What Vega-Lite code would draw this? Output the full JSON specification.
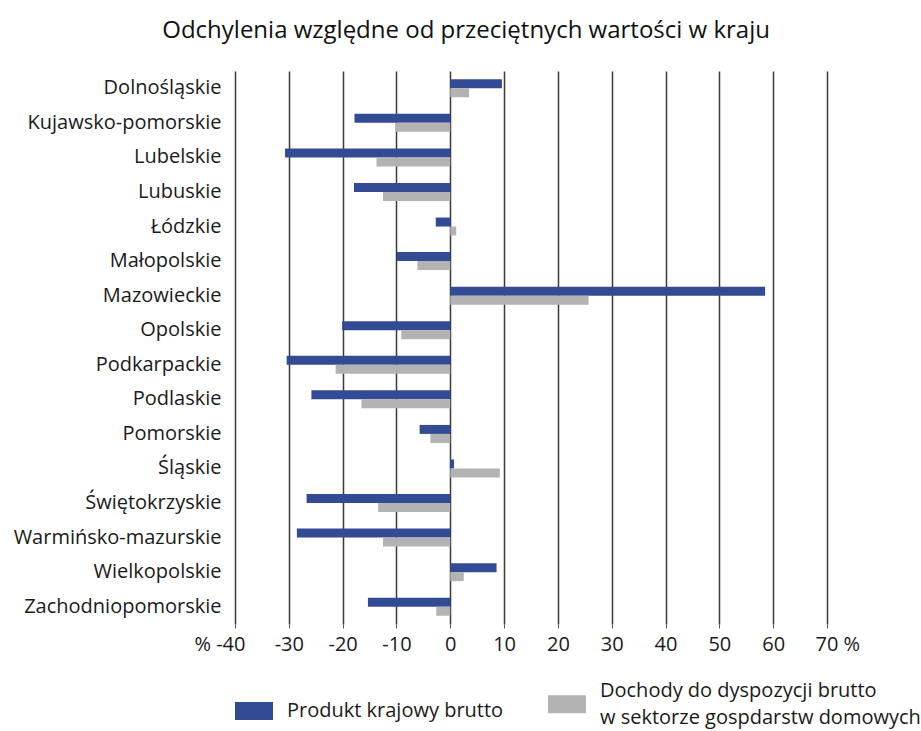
{
  "$schema": "https://vega.github.io/schema/vega-lite/v6.json",
  "width": 592,
  "height": 553,
  "autosize": {"type": "none"},
  "padding": {"left": 235, "top": 71, "right": 94, "bottom": 107},
  "background": "white",
  "title": {
    "text": "Odchylenia względne od przeciętnych wartości w kraju",
    "anchor": "middle",
    "frame": "bounds",
    "font": "Open Sans",
    "fontSize": 24,
    "fontWeight": "normal",
    "color": "#111111",
    "offset": 28,
    "dx": -1
  },
  "data": {
    "values": [
      {"region": "Dolnośląskie", "series": "Produkt krajowy brutto", "value": 9.6},
      {"region": "Dolnośląskie", "series": "Dochody", "value": 3.5},
      {"region": "Kujawsko-pomorskie", "series": "Produkt krajowy brutto", "value": -17.8},
      {"region": "Kujawsko-pomorskie", "series": "Dochody", "value": -10.2},
      {"region": "Lubelskie", "series": "Produkt krajowy brutto", "value": -30.7},
      {"region": "Lubelskie", "series": "Dochody", "value": -13.7},
      {"region": "Lubuskie", "series": "Produkt krajowy brutto", "value": -17.9},
      {"region": "Lubuskie", "series": "Dochody", "value": -12.5},
      {"region": "Łódzkie", "series": "Produkt krajowy brutto", "value": -2.7},
      {"region": "Łódzkie", "series": "Dochody", "value": 1.1},
      {"region": "Małopolskie", "series": "Produkt krajowy brutto", "value": -9.9},
      {"region": "Małopolskie", "series": "Dochody", "value": -6.1},
      {"region": "Mazowieckie", "series": "Produkt krajowy brutto", "value": 58.5},
      {"region": "Mazowieckie", "series": "Dochody", "value": 25.7},
      {"region": "Opolskie", "series": "Produkt krajowy brutto", "value": -20.1},
      {"region": "Opolskie", "series": "Dochody", "value": -9.1},
      {"region": "Podkarpackie", "series": "Produkt krajowy brutto", "value": -30.4},
      {"region": "Podkarpackie", "series": "Dochody", "value": -21.3},
      {"region": "Podlaskie", "series": "Produkt krajowy brutto", "value": -25.8},
      {"region": "Podlaskie", "series": "Dochody", "value": -16.5},
      {"region": "Pomorskie", "series": "Produkt krajowy brutto", "value": -5.7},
      {"region": "Pomorskie", "series": "Dochody", "value": -3.7},
      {"region": "Śląskie", "series": "Produkt krajowy brutto", "value": 0.7},
      {"region": "Śląskie", "series": "Dochody", "value": 9.2},
      {"region": "Świętokrzyskie", "series": "Produkt krajowy brutto", "value": -26.7},
      {"region": "Świętokrzyskie", "series": "Dochody", "value": -13.4},
      {"region": "Warmińsko-mazurskie", "series": "Produkt krajowy brutto", "value": -28.5},
      {"region": "Warmińsko-mazurskie", "series": "Dochody", "value": -12.5},
      {"region": "Wielkopolskie", "series": "Produkt krajowy brutto", "value": 8.6},
      {"region": "Wielkopolskie", "series": "Dochody", "value": 2.5},
      {"region": "Zachodniopomorskie", "series": "Produkt krajowy brutto", "value": -15.3},
      {"region": "Zachodniopomorskie", "series": "Dochody", "value": -2.6}
    ]
  },
  "mark": {"type": "bar"},
  "encoding": {
    "y": {
      "field": "region",
      "type": "nominal",
      "sort": null,
      "scale": {"paddingInner": 0.48, "paddingOuter": 0.24},
      "axis": {
        "title": null,
        "domain": false,
        "ticks": false,
        "labelPadding": 14,
        "labelFont": "Open Sans",
        "labelFontSize": 20,
        "labelColor": "#1a1a1a",
        "labelLimit": 300
      }
    },
    "yOffset": {
      "field": "series",
      "type": "nominal",
      "sort": ["Produkt krajowy brutto", "Dochody"],
      "scale": {"paddingInner": 0, "paddingOuter": 0}
    },
    "x": {
      "field": "value",
      "type": "quantitative",
      "scale": {"domain": [-40, 70], "nice": false, "zero": false},
      "axis": {
        "title": null,
        "domain": false,
        "values": [-40, -30, -20, -10, 0, 10, 20, 30, 40, 50, 60, 70],
        "grid": true,
        "gridColor": "#3a3a3a",
        "gridWidth": 1.5,
        "tickColor": "#555555",
        "tickSize": 4,
        "labelFont": "Open Sans",
        "labelFontSize": 20,
        "labelColor": "#1a1a1a",
        "labelPadding": 6,
        "labelExpr": "datum.value == -40 ? '% -40' : datum.value == 70 ? '70 %' : '' + datum.value",
        "labelAlign": {"condition": [{"test": "datum.value == -40", "value": "right"}, {"test": "datum.value == 70", "value": "left"}], "value": "center"},
        "labelOffset": {"condition": [{"test": "datum.value == -40", "value": 10}, {"test": "datum.value == 70", "value": -12}], "value": 0},
        "labelFlush": false
      }
    },
    "color": {
      "field": "series",
      "type": "nominal",
      "scale": {
        "domain": ["Produkt krajowy brutto", "Dochody"],
        "range": ["#334b94", "#b3b3b3"]
      },
      "legend": {
        "title": null,
        "orient": "bottom",
        "direction": "horizontal",
        "offset": 31,
        "symbolType": "M-1,-0.47H1V0.47H-1Z",
        "symbolSize": 1444,
        "symbolStrokeWidth": 0,
        "symbolOpacity": 1,
        "labelFont": "Open Sans",
        "labelFontSize": 20,
        "labelColor": "#1a1a1a",
        "labelOffset": 14,
        "labelLimit": 400,
        "columnPadding": 44,
        "labelExpr": "datum.value == 'Dochody' ? ['Dochody do dyspozycji brutto', 'w sektorze gospdarstw domowych'] : datum.label",
        "encode": {
          "labels": {
            "update": {
              "dy": {"signal": "datum.value == 'Dochody' ? -13.5 : 0"}
            }
          }
        }
      }
    }
  },
  "config": {
    "view": {"stroke": null},
    "axis": {"gridOpacity": 1},
    "style": {"guide-label": {"lineHeight": 27}}
  }
}
